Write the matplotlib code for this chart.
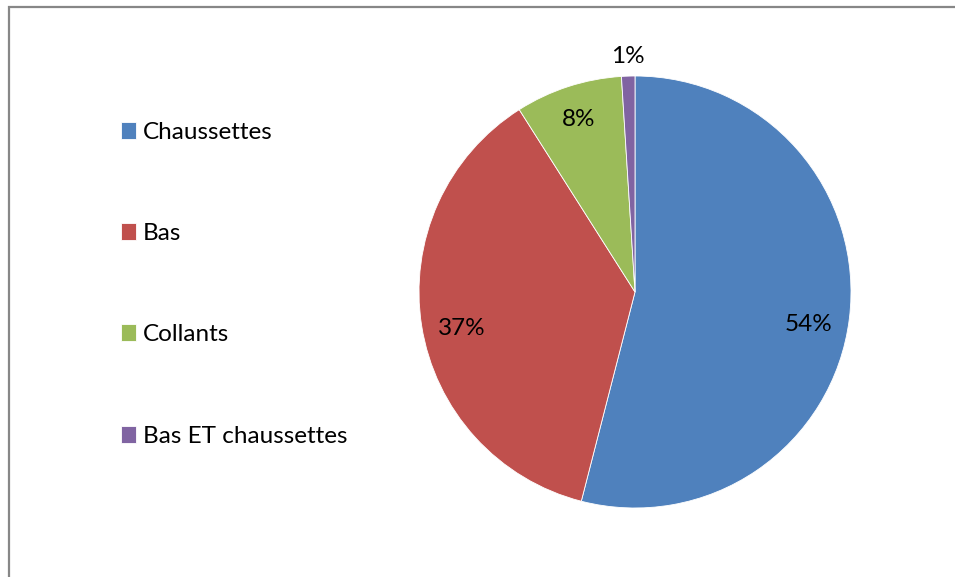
import numpy as np
import matplotlib.pyplot as plt
from matplotlib.patches import Rectangle

plt.rcParams['font.family'] = ['Lato', 'DejaVu Sans']

categories = ['Chaussettes', 'Bas', 'Collants', 'Bas ET chaussettes']
values = [54, 37, 8, 1]
colors = ['#4F81BD', '#C0504D', '#9BBB59', '#8064A2']
label_radius = [0.81, 0.81, 0.85, 1.09]
label_drop = [0.05, 0.04, 0.01, 0.0]

W, H = 955, 577
fig = plt.figure(figsize=(W / 100, H / 100), dpi=100)

# chart frame (open to the right and bottom)
fig.patches.append(Rectangle((8.5 / W, -0.1), 1.2, 1.1 - 7.5 / H,
                             transform=fig.transFigure, fill=False,
                             edgecolor='#878787', linewidth=1.6))

cx, cy, r = 635, 292, 216
ax = fig.add_axes([(cx - r) / W, 1 - (cy + r) / H, 2 * r / W, 2 * r / H])
wedges, _ = ax.pie(values, colors=colors, startangle=90, counterclock=False,
                   wedgeprops=dict(edgecolor='white', linewidth=0.6))
ax.set_xlim(-1, 1)
ax.set_ylim(-1, 1)
ax.set_aspect('equal')
ax.axis('off')

total = sum(values)
cum = 0
for v, rad, drop in zip(values, label_radius, label_drop):
    mid = np.deg2rad(90 - (cum + v / 2) / total * 360)
    cum += v
    ax.text(rad * np.cos(mid), rad * np.sin(mid) - drop, f'{v}%', ha='center',
            va='center', fontsize=17.5, color='black')

fig.legend(wedges, categories, loc='upper left',
           bbox_to_anchor=(99 / W, 1 - 100 / H), frameon=False,
           fontsize=17.5, handlelength=0.62, handleheight=0.7,
           handletextpad=0.3, labelspacing=3.3)

plt.savefig('out.png', dpi=100)
